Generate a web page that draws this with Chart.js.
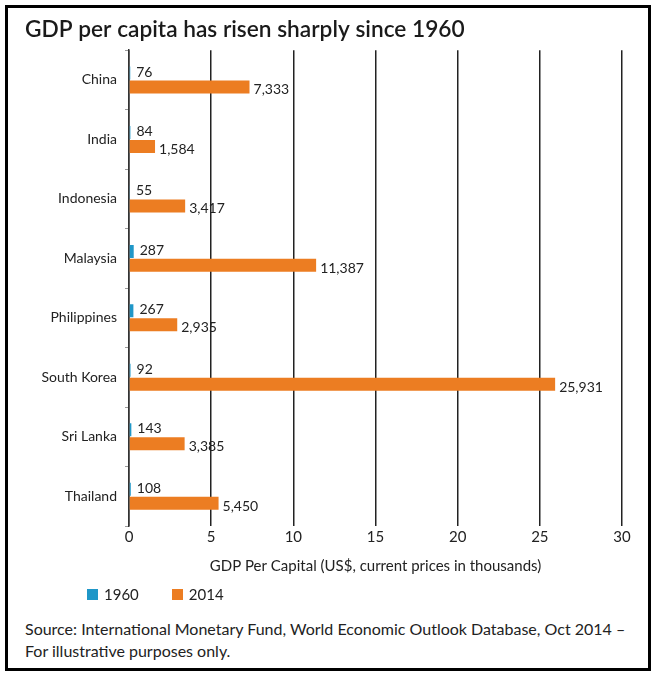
<!DOCTYPE html>
<html>
<head>
<meta charset="utf-8">
<script src="https://cdn.jsdelivr.net/npm/chart.js@4"></script>
<style>
  html, body { margin:0; padding:0; background:#fff; }
  body { width:657px; height:677px; position:relative; overflow:hidden; font-family: Lato, "Open Sans", sans-serif; }
  #frame { position:absolute; left:5px; top:5px; width:640px; height:660px; border:3px solid #000; }
  #c { position:absolute; left:4px; top:4px; }
  #legend { position:absolute; left:79px; top:577px; font-size:15px; color:#222; display:flex; align-items:center; }
  #legend span.item { display:flex; align-items:center; margin-right:33px; }
  #legend i { display:inline-block; width:11px; height:11px; margin-right:6px; }
  #source { position:absolute; left:17px; top:610px; font-size:16px; line-height:22px; color:#222; }
</style>
</head>
<body>
<div id="frame">
  <canvas id="c" width="636" height="575"></canvas>
  <div id="legend"></div>
  <div id="source">Source: International Monetary Fund, World Economic Outlook Database, Oct 2014 –<br>For illustrative purposes only.</div>
</div>
<script>
const countries = ["China","India","Indonesia","Malaysia","Philippines","South Korea","Sri Lanka","Thailand"];
const gdp1960 = [76, 84, 55, 287, 267, 92, 143, 108];
const gdp2014 = [7333, 1584, 3417, 11387, 2935, 25931, 3385, 5450];
const xTicks = [0, 5, 10, 15, 20, 25, 30];
const seriesNames = ["1960", "2014"];
const colors = ["#1f97c8", "#ec7d22"];

const fmt = v => v.toLocaleString('en-US');

const labelPlugin = {
  id: 'valueLabels',
  afterDatasetsDraw(chart) {
    const ctx = chart.ctx;
    ctx.save();
    ctx.font = '14px Lato, "Open Sans", sans-serif';
    ctx.fillStyle = '#222';
    ctx.textAlign = 'left';
    ctx.textBaseline = 'middle';
    chart.data.datasets.forEach((ds, di) => {
      const meta = chart.getDatasetMeta(di);
      const raw = di === 0 ? gdp1960 : gdp2014;
      meta.data.forEach((bar, i) => {
        const dx = di === 0 ? 6 : 4;
        const dy = di === 0 ? -1 : 3;
        ctx.fillText(fmt(raw[i]), bar.x + dx, bar.y + dy);
      });
    });
    ctx.restore();
  }
};

const chart = new Chart(document.getElementById('c'), {
  type: 'bar',
  data: {
    labels: countries,
    datasets: [
      { label: seriesNames[0], data: gdp1960.map(v => v / 1000), backgroundColor: colors[0] },
      { label: seriesNames[1], data: gdp2014.map(v => v / 1000), backgroundColor: colors[1] }
    ]
  },
  options: {
    indexAxis: 'y',
    responsive: false,
    animation: false,
    devicePixelRatio: 1,
    layout: { padding: { left: 13, right: 26, top: 0, bottom: 0 } },
    barPercentage: 0.93,
    categoryPercentage: 0.47,
    plugins: {
      legend: { display: false },
      tooltip: { enabled: false },
      title: {
        display: true,
        text: 'GDP per capita has risen sharply since 1960',
        align: 'start',
        color: '#1a1a1a',
        font: { family: 'Lato, "Open Sans", sans-serif', size: 22.7, weight: '600' },
        padding: { top: 4, bottom: 7 }
      }
    },
    scales: {
      x: {
        type: 'linear',
        min: 0, max: 30,
        afterBuildTicks: s => { s.ticks = xTicks.map(v => ({ value: v })); },
        ticks: { color: '#222', font: { family: 'Lato, "Open Sans", sans-serif', size: 15 }, padding: 2 },
        grid: { color: '#222', lineWidth: 1.5, drawTicks: false },
        border: { display: false },
        title: {
          display: true,
          text: 'GDP Per Capital (US$, current prices in thousands)',
          color: '#222',
          font: { family: 'Lato, "Open Sans", sans-serif', size: 15 },
          padding: { top: 9, bottom: 12 }
        }
      },
      y: {
        offset: true,
        afterFit: s => { s.width = 104; },
        ticks: { color: '#222', font: { family: 'Lato, "Open Sans", sans-serif', size: 14 }, padding: 8 },
        grid: { drawOnChartArea: false, offset: true, tickLength: 4, color: '#999' },
        border: { display: true, color: '#333', width: 1.5 }
      }
    }
  },
  plugins: [labelPlugin]
});

const leg = document.getElementById('legend');
chart.data.datasets.forEach(ds => {
  const s = document.createElement('span');
  s.className = 'item';
  const b = document.createElement('i');
  b.style.background = ds.backgroundColor;
  s.appendChild(b);
  s.appendChild(document.createTextNode(ds.label));
  leg.appendChild(s);
});
</script>
</body>
</html>
